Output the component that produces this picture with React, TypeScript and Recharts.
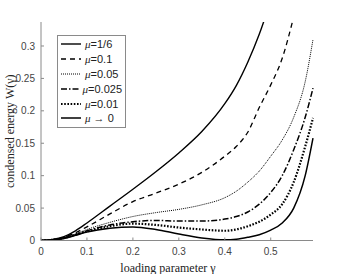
import { LineChart, Line, XAxis, YAxis, Legend, Label } from "recharts";

const gamma = [0, 0.025, 0.05, 0.075, 0.1, 0.15, 0.2, 0.25, 0.3, 0.35, 0.4, 0.425, 0.45, 0.475, 0.5, 0.525, 0.55, 0.575, 0.592];
const muSixth = [0, 0.0015, 0.006, 0.015, 0.027, 0.053, 0.079, 0.106, 0.135, 0.168, 0.211, 0.239, 0.275, 0.318, 0.37, null, null, null, null];
const muTenth = [0, 0.0012, 0.005, 0.012, 0.021, 0.041, 0.06, 0.073, 0.087, 0.105, 0.13, 0.145, 0.167, 0.205, 0.24, 0.281, 0.345, 0.42, null];
const mu005 = [0, 0.001, 0.004, 0.01, 0.017, 0.028, 0.037, 0.043, 0.048, 0.055, 0.066, 0.076, 0.09, 0.107, 0.13, 0.155, 0.19, 0.245, 0.31];
const mu0025 = [0, 0.001, 0.004, 0.009, 0.015, 0.024, 0.029, 0.031, 0.03, 0.03, 0.033, 0.037, 0.044, 0.056, 0.074, 0.1, 0.14, 0.19, 0.235];
const mu001 = [0, 0.001, 0.004, 0.009, 0.014, 0.022, 0.026, 0.024, 0.02, 0.017, 0.015, 0.017, 0.022, 0.029, 0.04, 0.056, 0.09, 0.145, 0.189];
const muZero = [0, 0.0008, 0.003, 0.008, 0.013, 0.019, 0.021, 0.017, 0.01, 0.004, 0.001, 0.002, 0.005, 0.009, 0.016, 0.027, 0.05, 0.1, 0.158];

const xTicks = [0, 0.1, 0.2, 0.3, 0.4, 0.5];
const yTicks = [0, 0.05, 0.1, 0.15, 0.2, 0.25, 0.3];
const muLabels = ["=1/6", "=0.1", "=0.05", "=0.025", "=0.01", "\u00a0\u2192 0"];
const seriesValues = [muSixth, muTenth, mu005, mu0025, mu001, muZero];

// line looks, one per series
const looks = [
  { w: 1.4, dash: undefined },
  { w: 1.3, dash: "5 4" },
  { w: 1, dash: "1 1" },
  { w: 1.5, dash: "6 2 1.5 2" },
  { w: 2.2, dash: "1.6 1.6" },
  { w: 1.5, dash: undefined },
];

const data = gamma.map((g, i) => {
  const row: Record<string, number | null> = { g };
  seriesValues.forEach((s, k) => (row["s" + k] = s[i]));
  return row;
});

const tick = { fontSize: 10, fill: "#444", fontFamily: "Liberation Sans, Arial, sans-serif" };
const axisGray = "#8a8a8a";
const serif = "Liberation Serif, serif";

function LegendBox() {
  return (
    <div
      style={{
        border: `1px solid ${axisGray}`,
        background: "#fff",
        padding: "1px 3px 1px 2px",
        fontFamily: "Liberation Sans, Arial, sans-serif",
        fontSize: 11,
        color: "#222",
        width: 62,
      }}
    >
      {muLabels.map((t, k) => (
        <div key={k} style={{ display: "flex", alignItems: "center", height: 14.8, whiteSpace: "nowrap" }}>
          <svg width={22} height={6} style={{ marginRight: 3 }}>
            <line x1={1} y1={3} x2={21} y2={3} stroke="#000" strokeWidth={looks[k].w} strokeDasharray={looks[k].dash} />
          </svg>
          <span style={{ fontFamily: serif, fontStyle: "italic" }}>{"\u03bc"}</span>
          <span>{t}</span>
        </div>
      ))}
    </div>
  );
}

export default function App() {
  return (
    <div style={{ position: "fixed", left: 0, top: 0, width: 347, height: 274, background: "#fff" }}>
      <LineChart width={347} height={274} data={data} margin={{ top: 22, right: 34, left: 0, bottom: 0 }}>
        <XAxis
          dataKey="g"
          type="number"
          domain={[0, 0.592]}
          ticks={xTicks}
          tick={tick}
          stroke={axisGray}
          tickSize={-3}
          tickMargin={10}
          height={33.5}
        >
          <Label
            value="loading parameter γ"
            position="insideBottom"
            offset={2}
            dx={-9}
            style={{ fontFamily: serif, fontSize: 12, fill: "#222" }}
          />
        </XAxis>
        <YAxis
          type="number"
          domain={[0, 0.337]}
          allowDataOverflow
          ticks={yTicks}
          tick={tick}
          stroke={axisGray}
          tickSize={-3}
          tickMargin={9}
          width={41}
        >
          <Label
            value="condensed energy W(γ)"
            angle={-90}
            position="insideLeft"
            offset={10}
            style={{ fontFamily: serif, fontSize: 12, fill: "#222", textAnchor: "middle" }}
          />
        </YAxis>
        <Legend
          layout="vertical"
          align="center"
          verticalAlign="middle"
          content={() => <LegendBox />}
          wrapperStyle={{ left: 57, top: 35, width: "auto" }}
        />
        {looks.map((l, k) => (
          <Line
            key={k}
            dataKey={"s" + k}
            type="monotone"
            stroke="#000"
            strokeWidth={l.w}
            strokeDasharray={l.dash}
            dot={false}
            activeDot={false}
            isAnimationActive={false}
          />
        ))}
      </LineChart>
    </div>
  );
}
